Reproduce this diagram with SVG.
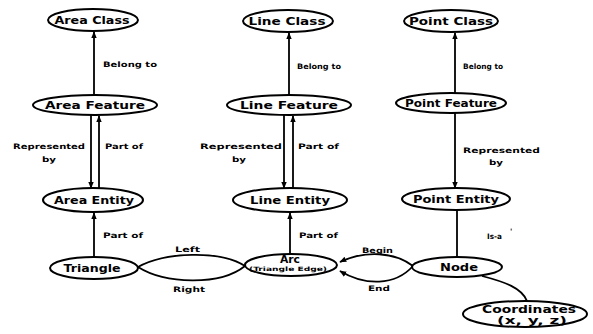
<svg xmlns="http://www.w3.org/2000/svg" width="593" height="334" viewBox="0 0 593 334">
  <style>
    .node ellipse { fill: #fff; stroke: #000; stroke-width: 2; }
    .nt { font-family: "DejaVu Sans", "Liberation Sans", sans-serif; font-weight: bold; font-size: 10.5px; text-anchor: middle; fill: #000; }
    .st { font-family: "DejaVu Sans", "Liberation Sans", sans-serif; font-weight: bold; font-size: 6px; text-anchor: middle; fill: #000; }
    .lbl { font-family: "DejaVu Sans", "Liberation Sans", sans-serif; font-weight: bold; font-size: 7.5px; fill: #000; }
    .edge { fill: none; stroke: #000; stroke-width: 1.8; }
    .arr { marker-end: url(#head); }
  </style>
  <defs>
    <marker id="head" viewBox="0 0 10 10" refX="9" refY="5" markerWidth="7" markerHeight="7" markerUnits="userSpaceOnUse" orient="auto">
      <path d="M0,1 L10,5 L0,9 Z" fill="#000"/>
    </marker>
  </defs>
  <rect width="593" height="334" fill="#fff"/>

  <!-- connectors -->
  <g id="connectors">
    <!-- Belong to -->
    <path class="edge arr" d="M94,95 L94,32"/>
    <path class="edge arr" d="M289,95 L289,33"/>
    <path class="edge arr" d="M455,93 L455,33"/>
    <!-- Represented by / Part of (area) -->
    <path class="edge arr" d="M91,115 L91,188"/>
    <path class="edge arr" d="M99,188 L99,116"/>
    <!-- Represented by / Part of (line) -->
    <path class="edge arr" d="M284,115 L284,188"/>
    <path class="edge arr" d="M293,188 L293,116"/>
    <!-- Represented by (point) -->
    <path class="edge arr" d="M455,113 L455,188"/>
    <!-- Part of -->
    <path class="edge arr" d="M94,257 L94,213"/>
    <path class="edge arr" d="M290,254 L290,213"/>
    <!-- Is-a -->
    <path class="edge" d="M457,210 L457,257"/>
    <!-- Left / Right -->
    <path class="edge" d="M138,267 C165,252 220,250 245,266"/>
    <path class="edge" d="M138,267 C165,284 220,286 245,266"/>
    <!-- Begin / End -->
    <path class="edge arr" d="M413,266 C395,252 365,250 340,262"/>
    <path class="edge arr" d="M413,266 C395,286 365,286 340,271"/>
    <!-- Node to Coordinates -->
    <path class="edge" d="M482,276 C505,282 522,288 527,301"/>
  </g>

  <!-- edge labels -->
  <g id="labels">
    <text class="lbl" x="103" y="67" textLength="54" lengthAdjust="spacingAndGlyphs">Belong to</text>
    <text class="lbl" x="297" y="69" textLength="44" lengthAdjust="spacingAndGlyphs">Belong to</text>
    <text class="lbl" x="463" y="69" textLength="40" lengthAdjust="spacingAndGlyphs">Belong to</text>

    <text class="lbl" x="13" y="149" textLength="72" lengthAdjust="spacingAndGlyphs">Represented</text>
    <text class="lbl" x="42" y="162" textLength="14" lengthAdjust="spacingAndGlyphs">by</text>
    <text class="lbl" x="105" y="149" textLength="38" lengthAdjust="spacingAndGlyphs">Part of</text>

    <text class="lbl" x="200" y="149" textLength="82" lengthAdjust="spacingAndGlyphs">Represented</text>
    <text class="lbl" x="232" y="162" textLength="14" lengthAdjust="spacingAndGlyphs">by</text>
    <text class="lbl" x="298" y="149" textLength="41" lengthAdjust="spacingAndGlyphs">Part of</text>

    <text class="lbl" x="463" y="153" textLength="77" lengthAdjust="spacingAndGlyphs">Represented</text>
    <text class="lbl" x="489" y="165" textLength="14" lengthAdjust="spacingAndGlyphs">by</text>

    <text class="lbl" x="103" y="238" textLength="40" lengthAdjust="spacingAndGlyphs">Part of</text>
    <text class="lbl" x="299" y="238" textLength="39" lengthAdjust="spacingAndGlyphs">Part of</text>

    <text class="lbl" x="175" y="252" textLength="25" lengthAdjust="spacingAndGlyphs">Left</text>
    <text class="lbl" x="173" y="292" textLength="32" lengthAdjust="spacingAndGlyphs">Right</text>
    <text class="lbl" x="362" y="253" textLength="31" lengthAdjust="spacingAndGlyphs">Begin</text>
    <text class="lbl" x="368" y="291" textLength="22" lengthAdjust="spacingAndGlyphs">End</text>
    <text class="lbl" x="487" y="239" textLength="15" lengthAdjust="spacingAndGlyphs">Is-a</text>
    <text class="lbl" x="510" y="234">'</text>
  </g>

  <!-- nodes -->
  <g id="area-class" class="node">
    <ellipse cx="93" cy="20" rx="45" ry="11"/>
    <text class="nt" x="92" y="24" textLength="75" lengthAdjust="spacingAndGlyphs">Area Class</text>
  </g>
  <g id="line-class" class="node">
    <ellipse cx="288" cy="21" rx="45" ry="11"/>
    <text class="nt" x="287" y="25" textLength="77" lengthAdjust="spacingAndGlyphs">Line Class</text>
  </g>
  <g id="point-class" class="node">
    <ellipse cx="451" cy="21" rx="47" ry="11"/>
    <text class="nt" x="451" y="25" textLength="84" lengthAdjust="spacingAndGlyphs">Point Class</text>
  </g>

  <g id="area-feature" class="node">
    <ellipse cx="95" cy="105" rx="62" ry="10"/>
    <text class="nt" x="95" y="109" textLength="100" lengthAdjust="spacingAndGlyphs">Area Feature</text>
  </g>
  <g id="line-feature" class="node">
    <ellipse cx="289" cy="105" rx="62" ry="10"/>
    <text class="nt" x="289" y="109" textLength="98" lengthAdjust="spacingAndGlyphs">Line Feature</text>
  </g>
  <g id="point-feature" class="node">
    <ellipse cx="451" cy="103" rx="55" ry="10"/>
    <text class="nt" x="451" y="107" textLength="92" lengthAdjust="spacingAndGlyphs">Point Feature</text>
  </g>

  <g id="area-entity" class="node">
    <ellipse cx="93" cy="200" rx="50" ry="12"/>
    <text class="nt" x="94" y="204" textLength="80" lengthAdjust="spacingAndGlyphs">Area Entity</text>
  </g>
  <g id="line-entity" class="node">
    <ellipse cx="290" cy="200" rx="57" ry="12"/>
    <text class="nt" x="290" y="204" textLength="80" lengthAdjust="spacingAndGlyphs">Line Entity</text>
  </g>
  <g id="point-entity" class="node">
    <ellipse cx="456" cy="199" rx="54" ry="11"/>
    <text class="nt" x="456" y="203" textLength="86" lengthAdjust="spacingAndGlyphs">Point Entity</text>
  </g>

  <g id="triangle" class="node">
    <ellipse cx="94" cy="268" rx="44" ry="11"/>
    <text class="nt" x="92" y="272" textLength="57" lengthAdjust="spacingAndGlyphs">Triangle</text>
  </g>
  <g id="arc" class="node">
    <ellipse cx="291" cy="265" rx="46" ry="11"/>
    <text class="nt" x="290" y="263" font-size="10" textLength="20" lengthAdjust="spacingAndGlyphs">Arc</text>
    <text class="st" x="288" y="271" textLength="78" lengthAdjust="spacingAndGlyphs">(Triangle Edge)</text>
  </g>
  <g id="node" class="node">
    <ellipse cx="457" cy="267" rx="45" ry="10"/>
    <text class="nt" x="459" y="271" textLength="38" lengthAdjust="spacingAndGlyphs">Node</text>
  </g>
  <g id="coordinates" class="node">
    <ellipse cx="525" cy="314" rx="62" ry="13"/>
    <text class="nt" x="529" y="313" font-size="9.5" textLength="94" lengthAdjust="spacingAndGlyphs">Coordinates</text>
    <text class="nt" x="532" y="324" font-size="9" textLength="70" lengthAdjust="spacingAndGlyphs">(x, y, z)</text>
  </g>
</svg>
